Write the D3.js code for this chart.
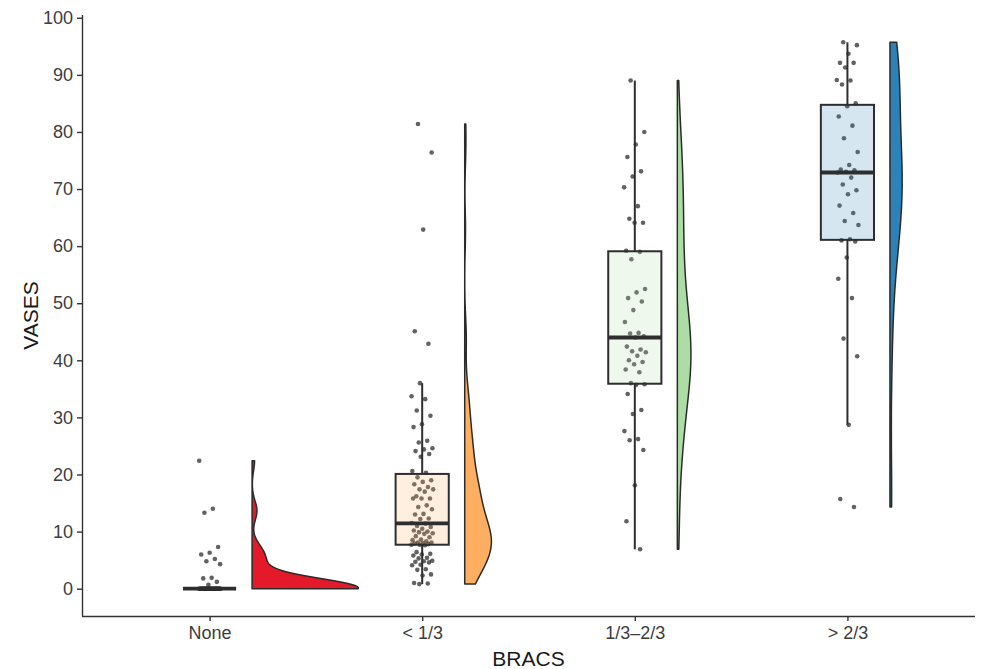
<!DOCTYPE html>
<html>
<head>
<meta charset="utf-8">
<script src="https://cdn.jsdelivr.net/npm/d3@7"></script>
<style>
  body { margin: 0; background: #fff; }
  svg { display: block; font-family: "Liberation Sans", Arial, Helvetica, sans-serif; }
  .axis path, .axis line { stroke: #333; stroke-width: 1.4; }
  .axis text { fill: #3d3d3d; font-size: 18px; }
  .title { fill: #1a1a1a; font-size: 21px; }
</style>
</head>
<body>
<script>
var categories = ['None', '< 1/3', '1/3\u20132/3', '> 2/3'];
var colors = ['#e41a2a', '#fdae61', '#abdda4', '#2b83ba'];

// VASES, one array per BRACS group
var noneValues = [
  0, 0, 0, 0, 0, 0, 0, 0, 0, 0, 0, 0, 0, 0, 0, 0, 0, 0, 0, 0,
  0, 0, 0, 0, 0, 0, 0, 0, 0, 0, 0, 0, 0, 0, 0, 0, 0, 0, 0, 0,
  22.4, 14.0, 13.3, 7.3, 6.3, 6.0, 5.2, 4.8, 4.3, 1.9, 1.8, 1.2, 0.7
];
var lowValues = [
  81.4, 76.4, 62.9, 45.1, 42.9, 36.0, 33.7, 33.2, 31.2, 30.3, 28.8, 28.3, 25.9, 25.6,
  24.6, 24.4, 24.1, 23.6, 23.1, 20.6, 20.3,
  19.5, 19.0, 18.7, 18.3, 17.8, 17.4, 17.4, 17.0, 16.2, 15.8, 15.8, 15.8, 14.6, 14.3,
  13.9, 13.1, 13.0, 12.3, 12.2, 11.5, 11.4, 11.0, 10.8, 10.5, 10.2, 10.0, 9.9, 9.7,
  9.6, 9.2, 9.0, 8.6, 8.5, 8.3, 8.1, 8.1, 8.0, 7.9, 7.8, 7.7, 7.7, 7.6,
  6.4, 6.1, 6.0, 5.8, 5.4, 5.3, 4.9, 4.8, 4.7, 4.6, 4.2, 4.1, 3.4, 3.3, 2.5, 2.3,
  1.0, 0.9, 0.8
];
var midValues = [
  89.0, 80.0, 77.8, 75.6, 73.1, 72.2, 70.3, 67.0, 64.8, 64.1, 64.1, 59.2,
  59.0, 57.7, 52.5, 51.9, 50.9, 50.3, 48.8, 46.7, 44.8, 44.7, 44.2, 44.0,
  42.4, 41.9, 41.6, 41.4, 40.8, 40.0, 39.7, 39.3, 38.4, 37.9,
  36.0, 35.8, 35.7, 34.1, 31.3, 30.6, 27.6, 26.2, 26.0, 24.3, 18.1, 11.8, 6.9
];
var highValues = [
  95.7, 95.2, 93.7, 92.1, 92.1, 91.3, 89.1, 89.0, 88.3, 85.0, 84.5,
  82.7, 81.1, 78.9, 76.5, 74.2, 73.4, 73.3, 73.0, 72.9,
  72.0, 70.8, 69.8, 69.1, 67.1, 65.8, 64.4, 63.7, 61.2, 61.0,
  60.8, 58.0, 54.3, 50.9, 43.8, 40.7, 28.7, 15.7, 14.3
];
var yTicks = [0, 10, 20, 30, 40, 50, 60, 70, 80, 90, 100];

var groups = [noneValues, lowValues, midValues, highValues].map(function(v, i) {
  return { name: categories[i], color: colors[i], values: v };
});

var w = 982, h = 669;
var plotL = 82, plotR = 975, plotT = 15, plotB = 616;

var svg = d3.select('body').append('svg')
  .attr('width', w)
  .attr('height', h);

var x = d3.scalePoint()
  .domain(categories)
  .range([plotL, plotR])
  .padding(0.6);
var step = x.step();

var all = d3.merge(groups.map(function(g) { return g.values; }));
var ext = d3.extent(all);
var pad = (ext[1] - ext[0]) * 0.05;
var y = d3.scaleLinear()
  .domain([ext[0] - pad, ext[1] + pad])
  .range([plotB, plotT]);

// gaussian kernel density, bandwidth as R's bw.nrd0, trimmed to data range
function bwNrd0(v) {
  var s = v.slice().sort(d3.ascending);
  var sd = d3.deviation(s);
  var lo = Math.min(sd, (d3.quantile(s, 0.75) - d3.quantile(s, 0.25)) / 1.34);
  if (!lo) lo = sd || Math.abs(s[0]) || 1;
  return 0.9 * lo * Math.pow(s.length, -0.2);
}
groups.forEach(function(g) {
  var bw = bwNrd0(g.values);
  var e = d3.extent(g.values);
  g.density = d3.range(512).map(function(i) {
    var t = e[0] + (e[1] - e[0]) * i / 511;
    var d = d3.mean(g.values, function(v) {
      var u = (t - v) / bw;
      return Math.exp(-0.5 * u * u) / Math.sqrt(2 * Math.PI);
    }) / bw;
    return [t, d];
  });
});
var maxDens = d3.max(groups, function(g) { return d3.max(g.density, function(d) { return d[1]; }); });
var violinW = 0.5 * step;
var nudge = 0.2 * step;

// half violins
groups.forEach(function(g) {
  var x0 = x(g.name) + nudge;
  var area = d3.area()
    .x0(x0)
    .x1(function(d) { return x0 + d[1] / maxDens * violinW; })
    .y(function(d) { return y(d[0]); });
  svg.append('path')
    .datum(g.density)
    .attr('d', area)
    .attr('fill', g.color)
    .attr('stroke', '#2b2b2b')
    .attr('stroke-width', 1.5)
    .attr('stroke-linejoin', 'round');
});

// jittered points (deterministic spread)
var jit = 0.052 * step;
groups.forEach(function(g) {
  svg.append('g').selectAll('circle')
    .data(g.values)
    .enter().append('circle')
      .attr('cx', function(d, i) { return x(g.name) + (((i * 0.6180339887 + 0.31) % 1) * 2 - 1) * jit; })
      .attr('cy', function(d) { return y(d); })
      .attr('r', 2.3)
      .attr('fill', '#262626')
      .attr('fill-opacity', 0.72);
});

// boxplots
var boxW = 0.25 * step;
groups.forEach(function(g) {
  var s = g.values.slice().sort(d3.ascending);
  var q1 = d3.quantile(s, 0.25), med = d3.quantile(s, 0.5), q3 = d3.quantile(s, 0.75);
  var iqr = q3 - q1;
  var lo = d3.min(s.filter(function(v) { return v >= q1 - 1.5 * iqr; }));
  var hi = d3.max(s.filter(function(v) { return v <= q3 + 1.5 * iqr; }));
  var cx = x(g.name);
  var bg = svg.append('g');
  bg.append('line')
    .attr('x1', cx).attr('x2', cx)
    .attr('y1', y(hi)).attr('y2', y(q3))
    .attr('stroke', '#2e2e2e').attr('stroke-width', 2);
  bg.append('line')
    .attr('x1', cx).attr('x2', cx)
    .attr('y1', y(q1)).attr('y2', y(lo))
    .attr('stroke', '#2e2e2e').attr('stroke-width', 2);
  bg.append('rect')
    .attr('x', cx - boxW / 2)
    .attr('y', y(q3))
    .attr('width', boxW)
    .attr('height', y(q1) - y(q3))
    .attr('fill', g.color)
    .attr('fill-opacity', 0.2)
    .attr('stroke', '#2e2e2e')
    .attr('stroke-width', 2);
  bg.append('line')
    .attr('x1', cx - boxW / 2).attr('x2', cx + boxW / 2)
    .attr('y1', y(med)).attr('y2', y(med))
    .attr('stroke', '#2e2e2e').attr('stroke-width', 3.8);
});

// axes
svg.append('g')
  .attr('class', 'axis')
  .attr('transform', 'translate(' + plotL + ',0)')
  .call(d3.axisLeft(y).tickValues(yTicks).tickSize(5).tickPadding(4).tickSizeOuter(0))
  .call(function(g) { g.select('.domain').attr('d', 'M0.5,' + plotT + 'V' + (plotB + 0.5)); });

svg.append('g')
  .attr('class', 'axis')
  .attr('transform', 'translate(0,' + plotB + ')')
  .call(d3.axisBottom(x).tickSize(5).tickPadding(5).tickSizeOuter(0))
  .call(function(g) { g.select('.domain').attr('d', 'M' + plotL + ',0.5H' + plotR); });

svg.append('text')
  .attr('class', 'title')
  .attr('x', (plotL + plotR) / 2)
  .attr('y', 666)
  .attr('text-anchor', 'middle')
  .text('BRACS');

svg.append('text')
  .attr('class', 'title')
  .attr('transform', 'translate(38,' + (plotT + plotB) / 2 + ') rotate(-90)')
  .attr('text-anchor', 'middle')
  .text('VASES');
</script>
</body>
</html>
